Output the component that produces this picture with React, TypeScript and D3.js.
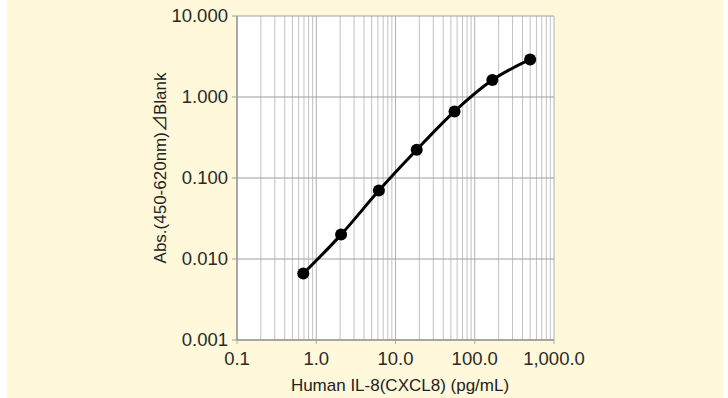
import React from "react";
import * as d3 from "d3";

const concentrations = [0.686, 2.058, 6.173, 18.52, 55.56, 166.7, 500];
const absorbance = [0.0066, 0.02, 0.07, 0.223, 0.664, 1.62, 2.91];
const xTickValues = [0.1, 1, 10, 100, 1000];
const xTickLabels = ["0.1", "1.0", "10.0", "100.0", "1,000.0"];
const yTickValues = [0.001, 0.01, 0.1, 1, 10];
const yTickLabels = ["0.001", "0.010", "0.100", "1.000", "10.000"];
const xLabel = "Human IL-8(CXCL8) (pg/mL)";
const yLabelA = "Abs.(450-620nm)";
const yLabelSym = "⊿";
const yLabelB = "Blank";

export default function App() {
  const W = 728, H = 398;
  const left = 237, right = 554, top = 16, bottom = 340;
  const x = d3.scaleLog().domain([0.1, 1000]).range([left, right]);
  const y = d3.scaleLog().domain([0.001, 10]).range([bottom, top]);
  const minor: number[] = [];
  for (let e = -1; e < 3; e++) for (let k = 2; k <= 9; k++) minor.push(k * Math.pow(10, e));
  const pts = concentrations.map((c, i) => [x(c), y(absorbance[i])] as [number, number]);
  const line = d3.line().curve(d3.curveMonotoneX)(pts) || "";
  const font = "'Liberation Sans', Arial, sans-serif";
  return (
    <svg width={W} height={H} style={{ position: "absolute", left: 0, top: 0 }}>
      <rect x={0} y={0} width={W} height={H} fill="#ffffff" />
      <rect x={7} y={0} width={716} height={H} fill="#fff8da" />
      <rect x={left} y={top} width={right - left} height={bottom - top} fill="#ffffff" />
      {minor.map((v, i) => (
        <line key={"m" + i} x1={x(v)} x2={x(v)} y1={top} y2={bottom} stroke="#c2c2c2" strokeWidth={1} />
      ))}
      {xTickValues.map((v, i) => (
        <line key={"xg" + i} x1={x(v)} x2={x(v)} y1={top} y2={bottom + 4} stroke="#b0b0b0" strokeWidth={1} />
      ))}
      {yTickValues.map((v, i) => (
        <line key={"yg" + i} x1={left - 5} x2={right} y1={y(v)} y2={y(v)} stroke="#a0a0a0" strokeWidth={1.2} />
      ))}
      <line x1={left} x2={left} y1={top} y2={bottom} stroke="#999" strokeWidth={1.5} />
      <line x1={left} x2={right} y1={bottom} y2={bottom} stroke="#999" strokeWidth={1.5} />
      {yTickValues.map((v, i) => (
        <text key={"yt" + i} x={left - 9} y={y(v)} dy="0.35em" textAnchor="end" fontFamily={font} fontSize={18.5} fill="#2a2a2a">
          {yTickLabels[i]}
        </text>
      ))}
      {xTickValues.map((v, i) => (
        <text key={"xt" + i} x={x(v)} y={365} textAnchor="middle" fontFamily={font} fontSize={18.5} fill="#2a2a2a">
          {xTickLabels[i]}
        </text>
      ))}
      <text x={400} y={391} textAnchor="middle" fontFamily={font} fontSize={17} fill="#222">{xLabel}</text>
      <text transform={`translate(166,168) rotate(-90)`} textAnchor="middle" fontFamily={font} fontSize={17} fill="#222">
        {yLabelA}
        <tspan fontFamily="'Noto Sans CJK JP', sans-serif">{yLabelSym}</tspan>
        {yLabelB}
      </text>
      <path d={line} fill="none" stroke="#000" strokeWidth={3} />
      {pts.map((p, i) => (
        <circle key={"p" + i} cx={p[0]} cy={p[1]} r={6} fill="#000" />
      ))}
    </svg>
  );
}
